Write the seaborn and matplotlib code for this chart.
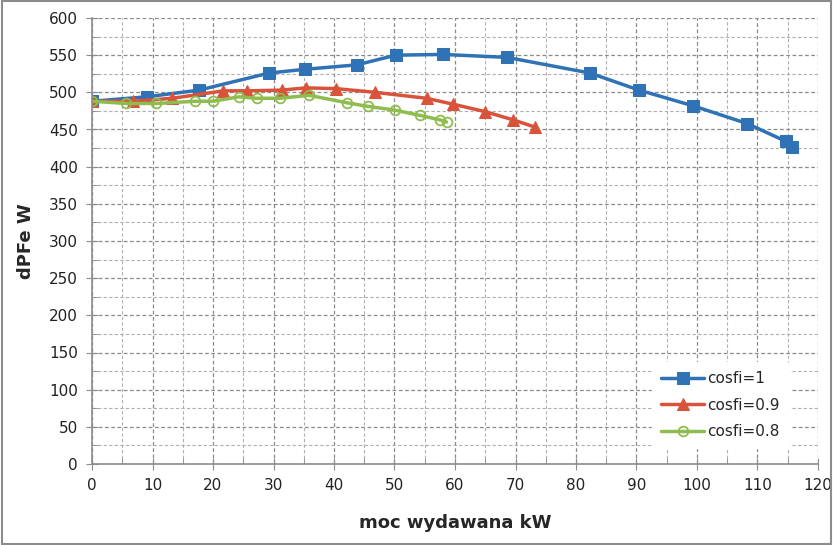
import pandas as pd
import matplotlib.pyplot as plt
import seaborn as sns
import numpy as np
from matplotlib.ticker import MultipleLocator
from matplotlib.patches import Rectangle

# cosfi=1
p_1 = [0, 9.1, 17.7, 29.3, 35.2, 43.8, 50.2, 58.0, 68.6, 82.3, 90.4, 99.3, 108.3, 114.7, 115.7]
dp_1 = [488, 494, 503, 526, 531, 537, 550, 551, 547, 526, 503, 482, 458, 434, 427]
# cosfi=0.9
p_09 = [0, 6.8, 13.3, 21.7, 25.7, 31.4, 35.3, 40.3, 46.8, 55.3, 59.7, 65.0, 69.6, 73.3]
dp_09 = [488, 488, 492, 502, 502, 503, 506, 505, 500, 492, 484, 474, 463, 453]
# cosfi=0.8
p_08 = [0, 5.7, 10.6, 17.0, 20.0, 24.3, 27.2, 31.1, 35.9, 42.1, 45.7, 50.1, 54.2, 57.5, 58.6]
dp_08 = [488, 485, 485, 488, 488, 494, 492, 492, 496, 486, 481, 476, 469, 463, 460]

labels = ["cosfi=1", "cosfi=0.9", "cosfi=0.8"]
colors = ["#2f72b5", "#d9533b", "#8fbc4f"]

frames = []
for lab, x, y in zip(labels, [p_1, p_09, p_08], [dp_1, dp_09, dp_08]):
    frames.append(pd.DataFrame({"moc": x, "dpfe": y, "serie": lab}))
data = pd.concat(frames, ignore_index=True)

sns.set_style("white")
plt.rcParams['font.family'] = ['DejaVu Sans']

fig = plt.figure(figsize=(8.33, 5.45), dpi=100)
ax = fig.add_axes([92/833, 1-464/545, (818-92)/833, (464-18)/545])

styles = {"cosfi=1": dict(marker="s", ms=8, mfc=colors[0], mec=colors[0]),
          "cosfi=0.9": dict(marker="^", ms=8, mfc=colors[1], mec=colors[1]),
          "cosfi=0.8": dict(marker="o", ms=7, mfc="none", mec=colors[2], mew=1.3)}
for lab, col in zip(labels, colors):
    sub = data[data["serie"] == lab]
    sns.lineplot(data=sub, x="moc", y="dpfe", ax=ax, color=col, lw=2.5,
                 label=lab, sort=False, **styles[lab])

ax.set_xlim(0, 120)
ax.set_ylim(0, 600)
ax.xaxis.set_major_locator(MultipleLocator(10))
ax.xaxis.set_minor_locator(MultipleLocator(5))
ax.yaxis.set_major_locator(MultipleLocator(50))
ax.yaxis.set_minor_locator(MultipleLocator(25))
ax.grid(which="major", color="#8a8a8a", ls=(0, (3, 2)), lw=0.9)
ax.grid(which="minor", color="#b0b0b0", ls=(0, (3, 2)), lw=0.8)
ax.set_axisbelow(True)

for s in ["top", "right"]:
    ax.spines[s].set_visible(False)
for s in ["left", "bottom"]:
    ax.spines[s].set_color("#8c8c8c")
    ax.spines[s].set_linewidth(1.2)

ax.tick_params(which="major", direction="inout", length=8, color="#8c8c8c",
               labelsize=11, labelcolor="#222222", left=True, bottom=True, pad=6)
ax.tick_params(which="minor", direction="in", length=4, color="#8c8c8c",
               left=True, bottom=True)

ax.set_xlabel("moc wydawana kW", fontsize=13, fontweight="bold", labelpad=15)
ax.set_ylabel("dPFe W", fontsize=13, fontweight="bold", labelpad=10)

leg = ax.legend(loc="lower right", bbox_to_anchor=(0.96, 0.035), frameon=True,
                fontsize=11, handlelength=2.8, labelspacing=0.75, borderpad=0.6,
                handletextpad=0.2, borderaxespad=0)
leg.get_frame().set_edgecolor("white")
leg.get_frame().set_facecolor("white")
leg.get_frame().set_alpha(1)

fig.patches.append(Rectangle((0.002, 0.002), 0.996, 0.996, transform=fig.transFigure,
                             fill=False, edgecolor="#8c8c8c", lw=1.5))

fig.savefig("out.png", dpi=100)
